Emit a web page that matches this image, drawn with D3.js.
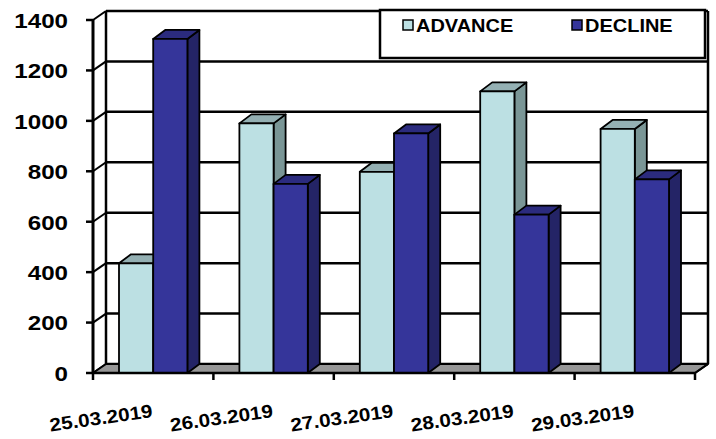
<!DOCTYPE html>
<html>
<head>
<meta charset="utf-8">
<script src="https://cdn.jsdelivr.net/npm/d3@7"></script>
<style>
  html, body { margin: 0; padding: 0; background: #fff; }
  svg { display: block; }
  text { font-family: "Liberation Sans", Arial, sans-serif; font-weight: bold; fill: #000; }
</style>
</head>
<body>
<script>
// Daily advance / decline counts
const categories = ["25.03.2019", "26.03.2019", "27.03.2019", "28.03.2019", "29.03.2019"];
const seriesNames = ["ADVANCE", "DECLINE"];
const advance = [435, 990, 798, 1117, 968];
const decline = [1325, 750, 950, 628, 768];
const yTicks = [0, 200, 400, 600, 800, 1000, 1200, 1400];

const colors = {
  ADVANCE: { front: "#BCE0E3", top: "#94B0B3", side: "#7A9696" },
  DECLINE: { front: "#35359A", top: "#2B2B7E", side: "#242466" }
};

const W = 716, H = 439;
const DX = 13, DY = -9;          // depth offset of the 3D frame
const plotLeft = 93, plotRight = 695, plotBottom = 373, plotTop = 20;

const svg = d3.select("body").append("svg").attr("width", W).attr("height", H);

const x0 = d3.scaleBand().domain(categories).range([plotLeft, plotRight]).padding(0);
const x1 = d3.scaleBand().domain(seriesNames).range([26, x0.bandwidth() - 26]).padding(0);
const y = d3.scaleLinear().domain([0, 1400]).range([plotBottom, plotTop]);

const line = (pts) => "M" + pts.map(p => p.join(",")).join("L");

// back wall gridlines
const g = svg.append("g");
g.selectAll("line.grid").data(yTicks).join("line")
  .attr("x1", plotLeft + DX).attr("x2", plotRight + DX)
  .attr("y1", d => y(d) + DY).attr("y2", d => y(d) + DY)
  .attr("stroke", "#000").attr("stroke-width", 2.5);

// side wall diagonals from the front axis to the back wall
g.selectAll("line.diag").data(yTicks).join("line")
  .attr("x1", plotLeft).attr("x2", plotLeft + DX)
  .attr("y1", d => y(d)).attr("y2", d => y(d) + DY)
  .attr("stroke", "#000").attr("stroke-width", 2);

// back wall edges
g.append("line").attr("x1", plotLeft + DX).attr("x2", plotLeft + DX)
  .attr("y1", y(1400) + DY).attr("y2", y(0) + DY).attr("stroke", "#000").attr("stroke-width", 2.5);
g.append("line").attr("x1", plotRight + DX).attr("x2", plotRight + DX)
  .attr("y1", y(1400) + DY).attr("y2", y(0) + DY).attr("stroke", "#000").attr("stroke-width", 2.5);

// floor
g.append("path")
  .attr("d", line([[plotLeft, y(0)], [plotRight, y(0)], [plotRight + DX, y(0) + DY], [plotLeft + DX, y(0) + DY]]) + "Z")
  .attr("fill", "#979797").attr("stroke", "#000").attr("stroke-width", 2).attr("stroke-linejoin", "round");

// legend box (sits over the top of the plot)
const lg = svg.append("g");
lg.append("rect").attr("x", 380).attr("y", 10).attr("width", 325).attr("height", 48)
  .attr("fill", "#fff").attr("stroke", "#000").attr("stroke-width", 2.5);
const legendX = { ADVANCE: 403, DECLINE: 572 };
seriesNames.forEach(s => {
  lg.append("rect").attr("x", legendX[s]).attr("y", 20).attr("width", 10).attr("height", 10)
    .attr("fill", colors[s].front).attr("stroke", "#000").attr("stroke-width", 1.5);
  lg.append("text").attr("transform", `translate(${legendX[s] + 13},31.5) scale(1.08,1)`)
    .attr("font-size", 18.5).text(s);
});

// bars
const rows = [];
categories.forEach((c, i) => {
  rows.push({ cat: c, s: "ADVANCE", v: advance[i] });
  rows.push({ cat: c, s: "DECLINE", v: decline[i] });
});
const bw = x1.bandwidth();
const BDX = 12, BDY = -9;
const bars = svg.append("g").selectAll("g").data(rows).join("g");
bars.each(function (d) {
  const gx = x0(d.cat) + x1(d.s), gy = y(d.v), gb = y(0);
  const el = d3.select(this);
  const st = { stroke: "#000", "stroke-width": 1.8, "stroke-linejoin": "round" };
  const side = el.append("path")
    .attr("d", line([[gx + bw, gb], [gx + bw + BDX, gb + BDY], [gx + bw + BDX, gy + BDY], [gx + bw, gy]]) + "Z")
    .attr("fill", colors[d.s].side);
  const topF = el.append("path")
    .attr("d", line([[gx, gy], [gx + BDX, gy + BDY], [gx + bw + BDX, gy + BDY], [gx + bw, gy]]) + "Z")
    .attr("fill", colors[d.s].top);
  const front = el.append("rect").attr("x", gx).attr("y", gy).attr("width", bw).attr("height", gb - gy)
    .attr("fill", colors[d.s].front);
  [side, topF, front].forEach(p => Object.entries(st).forEach(([k, v]) => p.attr(k, v)));
});

// front axes
const ax = svg.append("g");
ax.append("line").attr("x1", plotLeft).attr("x2", plotLeft).attr("y1", y(1400)).attr("y2", y(0))
  .attr("stroke", "#000").attr("stroke-width", 3);
ax.append("line").attr("x1", plotLeft).attr("x2", plotRight).attr("y1", y(0)).attr("y2", y(0))
  .attr("stroke", "#000").attr("stroke-width", 2.5);
ax.append("line").attr("x1", plotRight).attr("x2", plotRight + DX).attr("y1", y(0)).attr("y2", y(0) + DY)
  .attr("stroke", "#000").attr("stroke-width", 2);

// y ticks and labels
ax.selectAll("line.yt").data(yTicks).join("line")
  .attr("x1", plotLeft - 7).attr("x2", plotLeft).attr("y1", d => y(d)).attr("y2", d => y(d))
  .attr("stroke", "#000").attr("stroke-width", 2.5);
ax.selectAll("text.yl").data(yTicks).join("text")
  .attr("transform", d => `translate(68,${y(d) + 7.8}) scale(1.15,1)`)
  .attr("text-anchor", "end").attr("font-size", 21).text(d => d);

// x ticks at category boundaries
const bounds = categories.map(c => x0(c)).concat([plotRight]);
ax.selectAll("line.xt").data(bounds).join("line")
  .attr("x1", d => d).attr("x2", d => d).attr("y1", y(0)).attr("y2", y(0) + 7)
  .attr("stroke", "#000").attr("stroke-width", 2.5);

// rotated category labels, ending at the category centre
ax.selectAll("text.xl").data(categories).join("text")
  .attr("transform", c => `translate(${x0(c) + x0.bandwidth() / 2},417) rotate(-8) scale(1.12,1)`)
  .attr("text-anchor", "end").attr("font-size", 18.5).text(c => c);
</script>
</body>
</html>
